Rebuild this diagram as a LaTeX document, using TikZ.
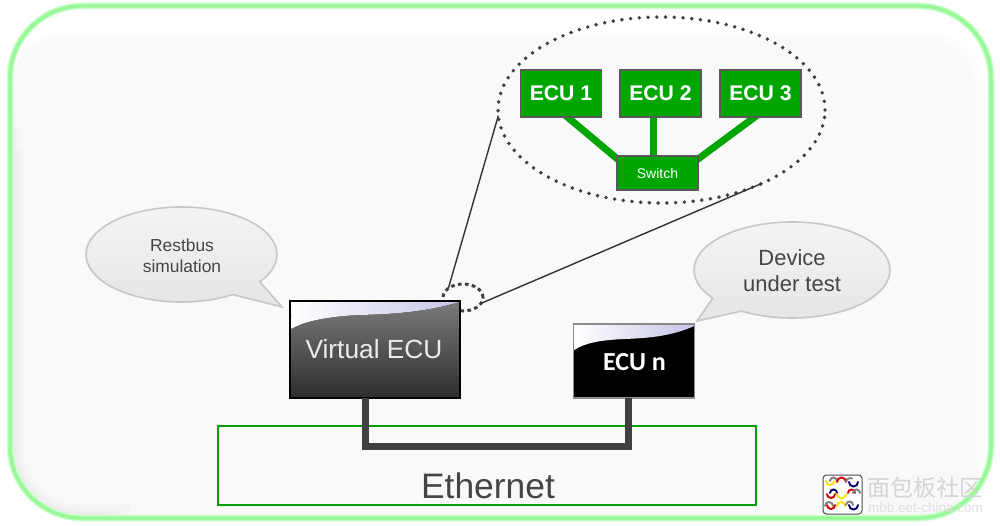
\documentclass[tikz,border=0pt]{standalone}
\usepackage{fontspec}
\setmainfont{Liberation Sans}
\newfontfamily\calibrilike{Carlito}
\newfontfamily\cjkfont{Noto Sans CJK SC}
\usetikzlibrary{shapes.geometric,calc}
\pgfdeclarelayer{panel}
\pgfdeclarelayer{links}
\pgfsetlayers{panel,links,main}
\definecolor{ecugreen}{HTML}{00A600}
\definecolor{busgrey}{HTML}{404040}
\definecolor{textgrey}{HTML}{454545}
\definecolor{gloss}{HTML}{C4C4E6}
\definecolor{rimouter}{HTML}{DCFFDC}
\definecolor{rimmid}{HTML}{B4FCB4}
\definecolor{riminner}{HTML}{98F898}
\newcommand{\fs}[2]{\fontsize{#1}{#2}\selectfont}
\tikzset{
  x=1pt,y=-1pt,
  every node/.style={outer sep=0pt,inner sep=0pt},
  greenbox/.style={draw=black!65,line width=1.2pt,fill=ecugreen,text=white,minimum width=81pt,minimum height=47pt,font=\fs{21.2}{26}\bfseries},
  switchbox/.style={draw=black!65,line width=1.2pt,fill=ecugreen,text=white,minimum width=81pt,minimum height=34pt,font=\fs{14}{17}},
  greenlink/.style={ecugreen,line width=7pt},
  dotring/.style={ellipse,draw=black!75,line width=3.9pt,line cap=round,dash pattern=on 0pt off 8.75pt},
  thinlink/.style={black!80,line width=1.4pt},
  bubble/.style={draw=black!22,line width=1.6pt,top color=black!4,bottom color=black!10},
  bubbletext/.style={align=center,text=textgrey},
  busline/.style={busgrey,line width=7pt},
  logoarc/.style={line width=1.9pt,line cap=round},
}
\begin{document}
\begin{tikzpicture}
\useasboundingbox (0,0) rectangle (1000,526);

% rounded panel with its soft grey face and glowing green rim
\begin{pgfonlayer}{panel}
  \fill[white] (0,0) rectangle (1000,526);
  \begin{scope}
    \clip[rounded corners=72pt] (10,6) rectangle (991,518);
    \fill[black!1,rounded corners=62pt] (4,31) rectangle (985,530);
    \fill[black!2.2,rounded corners=58pt] (8,36) rectangle (977,530);
    % soft inner shadow along the lower left of the panel
    \foreach \w/\ya/\xb in {26/150/130,18/130/120,12/110/110,8/90/100,4/75/90}
      \draw[black,opacity=.014,line width=\w pt,rounded corners=72pt]
        (10,\ya) -- (10,518) -- (\xb,518);
    \foreach \w/\ya/\xb in {6/72/88,3/68/84}
      \draw[black,opacity=.06,line width=\w pt,rounded corners=72pt]
        (10,\ya) -- (10,518) -- (\xb,518);
  \end{scope}
  \draw[rimouter,line width=7pt,rounded corners=72pt] (10,6) rectangle (991,518);
  \draw[rimmid,line width=5pt,rounded corners=72pt] (10,6) rectangle (991,518);
  \draw[riminner,line width=3pt,rounded corners=72pt] (10,6) rectangle (991,518);
\end{pgfonlayer}

% magnified view of the virtual ECU network
\node[ellipse,minimum width=327pt,minimum height=186pt,dotring] (zoomring) at (661.5,110) {};
\node[greenbox] (ecua) at (561,93.5) {ECU 1};
\node[greenbox] (ecub) at (660.5,93.5) {ECU 2};
\node[greenbox] (ecuc) at (760.5,93.5) {ECU 3};
\node[switchbox] (switch) at (657.5,173) {Switch};
\begin{pgfonlayer}{links}
  \draw[greenlink] ($(ecua.south)+(4,-2)$) -- ($(switch.north west)+(4,6)$);
  \draw[greenlink] ($(ecub.south)+(-7,-2)$) -- ($(switch.north)+(-4,2)$);
  \draw[greenlink] ($(ecuc.south)+(-3,-2)$) -- ($(switch.north east)+(-4,6)$);
\end{pgfonlayer}

% small ring on the virtual ECU, with the two lines opening up to the magnified view
\node[ellipse,minimum width=40pt,minimum height=27pt,draw=black!75,line width=3pt,dash pattern=on 3.6pt off 3.4pt] (spot) at (463,297.5) {};
\draw[thinlink] (spot.148) -- (zoomring.182.5);
\draw[thinlink] (spot.-18) -- (zoomring.-36.5);

% Ethernet segment
\node[draw=green!62!black,line width=2.4pt,minimum width=538pt,minimum height=79pt] (ethernet) at (487,465.5) {};
\node[font=\fs{35.4}{43},text=textgrey] (ethlabel) at (488,486) {Ethernet};

% the two ECUs on the bus
\node[draw=black,line width=1.6pt,top color=black!52,bottom color=black!82,minimum width=170pt,minimum height=97pt] (vecu) at (375,349.5) {};
\fill[left color=white,right color=gloss]
  (291,302) -- (459.5,302) .. controls (425,312) and (395,314) .. (360,315)
  .. controls (335,316) and (305,320) .. (291.5,329) -- cycle;
\node[text=black!8,font=\fs{26.3}{32}] (vlabel) at (374,349) {Virtual ECU};

\node[draw=black!45,line width=1.4pt,fill=black,minimum width=121pt,minimum height=74pt] (ecun) at (634,361) {};
\fill[left color=white,right color=gloss]
  (574.2,324.8) -- (694.2,324.8) -- (694.2,326) .. controls (672,336) and (650,338) .. (625,339)
  .. controls (600,340) and (585,343) .. (574.2,350) -- cycle;
\node[text=white,font=\calibrilike\bfseries\fs{26}{30}] (nlabel) at (634.5,362) {ECU n};

\coordinate (vtap) at ($(vecu.south west)!.447!(vecu.south east)$);
\coordinate (ntap) at ($(ecun.south west)!.458!(ecun.south east)$);
\draw[busline,line join=miter] (vtap) |- (ntap |- 0,446) -- (ntap);

% speech bubbles
\path[bubble] (181.5,254.5) ++(-35:95.5pt and 47.5pt)
  arc[start angle=-35,end angle=302.4,x radius=95.5pt,y radius=47.5pt] -- (282,307) -- cycle;
\node[bubbletext,font=\fs{17.4}{21}] (restbus) at (182,255.5) {Restbus\\simulation};

\path[bubble] (792,270) ++(239:98pt and 48pt)
  arc[start angle=239,end angle=576,x radius=98pt,y radius=48pt] -- (697,321) -- cycle;
\node[bubbletext,font=\fs{22}{26}] (device) at (792,271) {Device\\under test};

% community badge in the lower right corner
\node[draw=black!70,fill=white,line width=1pt,rounded corners=3.5pt,minimum width=39pt,minimum height=39pt] (badge) at (842.5,494.5) {};
\begin{scope}[logoarc]
  \draw[black!50] (830,481) arc[start angle=180,end angle=0,radius=3.5pt];
  \draw[yellow!85!orange] (826,481) arc[start angle=180,end angle=360,radius=4pt];
  \draw[red!85!black] (837,482) arc[start angle=180,end angle=0,radius=4.5pt];
  \draw[black!50] (846,482) arc[start angle=180,end angle=60,radius=4pt];
  \draw[blue!45!black] (849,482) arc[start angle=180,end angle=360,radius=4.5pt];
  \draw[blue!45!black] (830,493) arc[start angle=180,end angle=0,radius=3.5pt];
  \draw[red!85!black] (827,494) arc[start angle=180,end angle=360,radius=4pt];
  \draw[yellow!85!orange] (837,494) arc[start angle=180,end angle=360,radius=4.5pt];
  \draw[red!85!black] (848,493) arc[start angle=180,end angle=0,radius=3.5pt];
  \draw[black!50] (853,493) arc[start angle=180,end angle=0,radius=3.5pt];
  \draw[black!50] (825,506) arc[start angle=180,end angle=0,radius=4pt];
  \draw[red!85!black] (827,505) arc[start angle=180,end angle=360,radius=4pt];
  \draw[yellow!85!orange] (837,506) arc[start angle=180,end angle=0,radius=4pt];
  \draw[black!50] (846,505) arc[start angle=180,end angle=0,radius=3.5pt];
  \draw[blue!45!black] (849,505) arc[start angle=180,end angle=360,radius=4.5pt];
\end{scope}
\node[text=black!17,font=\cjkfont\fs{23}{28},anchor=west] (brand) at (867,487.5) {面包板社区};
\node[text=black!13,font=\fs{13.5}{16},anchor=west] (brandurl) at (868,508) {mbb.eet-china.com};
\end{tikzpicture}
\end{document}
